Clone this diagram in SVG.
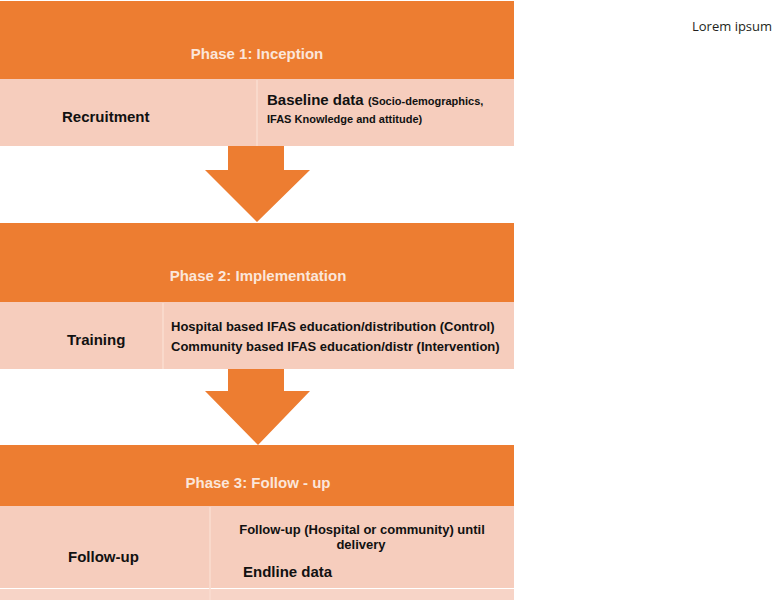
<svg xmlns="http://www.w3.org/2000/svg" width="777" height="600" viewBox="0 0 777 600">
<style>
.hdr{fill:#ED7D31}
.band{fill:#F6CDBD}
.div{stroke:#FADCD0;stroke-width:1.5}
.ht{font-family:"Liberation Sans",Arial,sans-serif;font-weight:bold;font-size:15px;fill:#FBE6DA;text-anchor:middle}
.t{font-family:"Liberation Sans",Arial,sans-serif;font-weight:bold;fill:#111}
.arrow{fill:#ED7D31}
</style>
<rect width="777" height="600" fill="#fff"/>
<g id="phase1">
<rect class="hdr" x="0" y="1" width="514" height="78"/>
<text class="ht" x="257" y="59">Phase 1: Inception</text>
</g>
<g id="recruitment">
<rect class="band" x="0" y="79" width="257" height="67"/>
<text class="t" x="62" y="122" font-size="15">Recruitment</text>
</g>
<g id="baseline">
<rect class="band" x="257" y="79" width="257" height="67"/>
<line class="div" x1="257" y1="80" x2="257" y2="146"/>
<text class="t" x="267" y="105" font-size="15">Baseline data <tspan font-size="11">(Socio-demographics,</tspan></text>
<text class="t" x="267" y="123" font-size="11">IFAS Knowledge and attitude)</text>
</g>
<g id="phase2">
<rect class="hdr" x="0" y="223" width="514" height="79"/>
<text class="ht" x="258" y="281">Phase 2: Implementation</text>
</g>
<g id="training">
<rect class="band" x="0" y="302" width="163" height="67"/>
<text class="t" x="67" y="345" font-size="15">Training</text>
</g>
<g id="education">
<rect class="band" x="163" y="302" width="351" height="67"/>
<line class="div" x1="163" y1="303" x2="163" y2="369"/>
<text class="t" x="171" y="331" font-size="13">Hospital based IFAS education/distribution (Control)</text>
<text class="t" x="171" y="351" font-size="13">Community based IFAS education/distr (Intervention)</text>
</g>
<g id="phase3">
<rect class="hdr" x="0" y="445" width="514" height="61"/>
<text class="ht" x="258" y="488">Phase 3: Follow - up</text>
</g>
<g id="followup">
<rect class="band" x="0" y="506" width="210" height="82"/>
<rect class="band" x="0" y="589" width="210" height="11" opacity="0.85"/>
<text class="t" x="68" y="562" font-size="15">Follow-up</text>
</g>
<g id="endline">
<rect class="band" x="210" y="506" width="304" height="82"/>
<rect class="band" x="210" y="589" width="304" height="11" opacity="0.85"/>
<line class="div" x1="210" y1="507" x2="210" y2="600"/>
<text class="t" x="362" y="534" font-size="13" text-anchor="middle">Follow-up (Hospital or community) until</text>
<text class="t" x="361" y="549" font-size="13" text-anchor="middle">delivery</text>
<text class="t" x="243" y="577" font-size="15">Endline data</text>
</g>
<g id="connectors">
<polygon class="arrow" points="228,146 284,146 284,170 310,170 257,222 205,170 228,170"/>
<polygon class="arrow" points="228,369 284,369 284,391 310,391 258,445 205,391 228,391"/>
</g>
<text x="692" y="31" font-family="'Open Sans',sans-serif" font-size="13" fill="#231F20">Lorem ipsum</text>
</svg>
